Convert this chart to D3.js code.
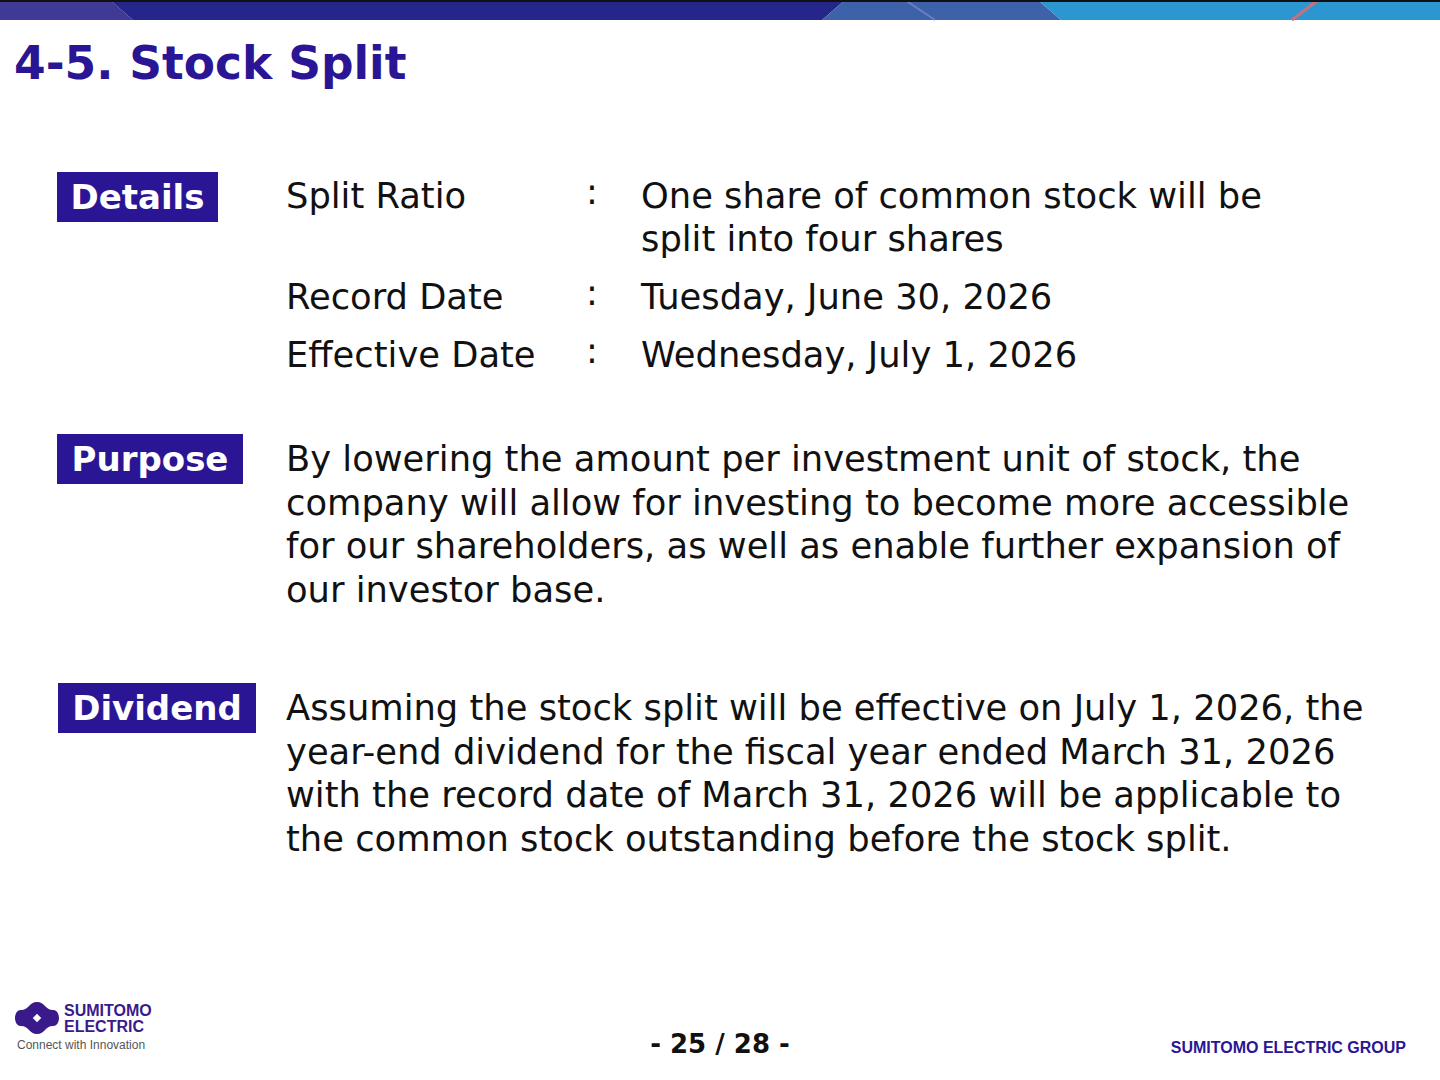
<!DOCTYPE html>
<html><head><meta charset="utf-8">
<script src="https://cdn.jsdelivr.net/npm/d3@7/dist/d3.min.js"></script>
<style>body{margin:0;background:#fff}</style></head>
<body><svg id="s" width="1440" height="1080"></svg>
<script>
const title = "4-5. Stock Split";
const detailLabels = ["Split Ratio","Record Date","Effective Date"];
const detailValues = [["One share of common stock will be","split into four shares"],["Tuesday, June 30, 2026"],["Wednesday, July 1, 2026"]];
const detailY = [196, 297, 355];
const purposeLines = ["By lowering the amount per investment unit of stock, the","company will allow for investing to become more accessible","for our shareholders, as well as enable further expansion of","our investor base."];
const dividendLines = ["Assuming the stock split will be effective on July 1, 2026, the","year-end dividend for the fiscal year ended March 31, 2026","with the record date of March 31, 2026 will be applicable to","the common stock outstanding before the stock split."];
const badges = [{t:"Details",x:57,y:172,w:161},{t:"Purpose",x:57,y:434,w:186},{t:"Dividend",x:58,y:683,w:198}];

const svg = d3.select("#s");
const F = "'DejaVu Sans', Verdana, sans-serif";
const navy = "#2a1694";
const bar = [[0,0,110,0,133,20,0,20,"#3f3a96"],[110,0,845,0,822,20,133,20,"#24268a"],[845,0,1038,0,1061,20,822,20,"#3d62aa"],[1038,0,1440,0,1440,20,1061,20,"#2b96cf"]];
bar.forEach(b=>svg.append("polygon").attr("points",[[b[0],b[1]],[b[2],b[3]],[b[4],b[5]],[b[6],b[7]]].join(" ")).attr("fill",b[8]));
svg.append("line").attr("x1",1318).attr("y1",0).attr("x2",1292).attr("y2",20).attr("stroke","#c87080").attr("stroke-width",3);
svg.append("line").attr("x1",905).attr("y1",0).attr("x2",935).attr("y2",20).attr("stroke","#6a7fc0").attr("stroke-width",2);
svg.append("rect").attr("x",0).attr("y",0).attr("width",1440).attr("height",2).attr("fill","#111");

svg.append("text").attr("x",14).attr("y",79).attr("font-family",F).attr("font-weight","bold").attr("font-size",45.5).attr("fill",navy).text(title);

badges.forEach(b=>{
  svg.append("rect").attr("x",b.x).attr("y",b.y).attr("width",b.w).attr("height",50).attr("fill",navy);
  svg.append("text").attr("x",b.x+b.w/2).attr("y",b.y+37).attr("text-anchor","middle").attr("font-family",F).attr("font-weight","bold").attr("font-size",34).attr("fill","#fff").text(b.t);
});
const txt=(x,y,t)=>svg.append("text").attr("x",x).attr("y",y).attr("font-family",F).attr("font-size",35.3).attr("fill","#111").text(t);
detailLabels.forEach((l,i)=>{
  txt(286,detailY[i]+12,l);
  txt(586,detailY[i]+8,":");
  detailValues[i].forEach((v,j)=>txt(641,detailY[i]+12+j*43,v));
});
purposeLines.forEach((l,i)=>txt(286,471+i*43.5,l));
dividendLines.forEach((l,i)=>txt(286,720+i*43.5,l));

svg.append("text").attr("x",720).attr("y",1053).attr("text-anchor","middle").attr("font-family",F).attr("font-weight","bold").attr("font-size",26).attr("fill","#111").text("- 25 / 28 -");
svg.append("text").attr("x",1406).attr("y",1053).attr("text-anchor","end").attr("font-family","Arial, 'Liberation Sans', sans-serif").attr("font-weight","bold").attr("font-size",16).attr("fill",navy).text("SUMITOMO ELECTRIC GROUP");
const g=svg.append("g").attr("transform","translate(37,1018)");
g.append("path").attr("d","M0,-16 C8,-16 8,-8 16,-8 C22,-8 22,0 22,0 C22,0 22,8 16,8 C8,8 8,16 0,16 C-8,16 -8,8 -16,8 C-22,8 -22,0 -22,0 C-22,0 -22,-8 -16,-8 C-8,-8 -8,-16 0,-16Z").attr("fill","#3a1a8a");
g.append("rect").attr("x",-3).attr("y",-3).attr("width",6).attr("height",6).attr("transform","rotate(45)").attr("fill","#fff");
svg.append("text").attr("x",64).attr("y",1016).attr("font-family","Arial, 'Liberation Sans', sans-serif").attr("font-weight","bold").attr("font-size",16).attr("fill","#3a1a8a").text("SUMITOMO");
svg.append("text").attr("x",64).attr("y",1032).attr("font-family","Arial, 'Liberation Sans', sans-serif").attr("font-weight","bold").attr("font-size",16).attr("fill","#3a1a8a").text("ELECTRIC");
svg.append("text").attr("x",17).attr("y",1049).attr("font-family","Arial, 'Liberation Sans', sans-serif").attr("font-size",12).attr("fill","#555").text("Connect with Innovation");
</script></body></html>
